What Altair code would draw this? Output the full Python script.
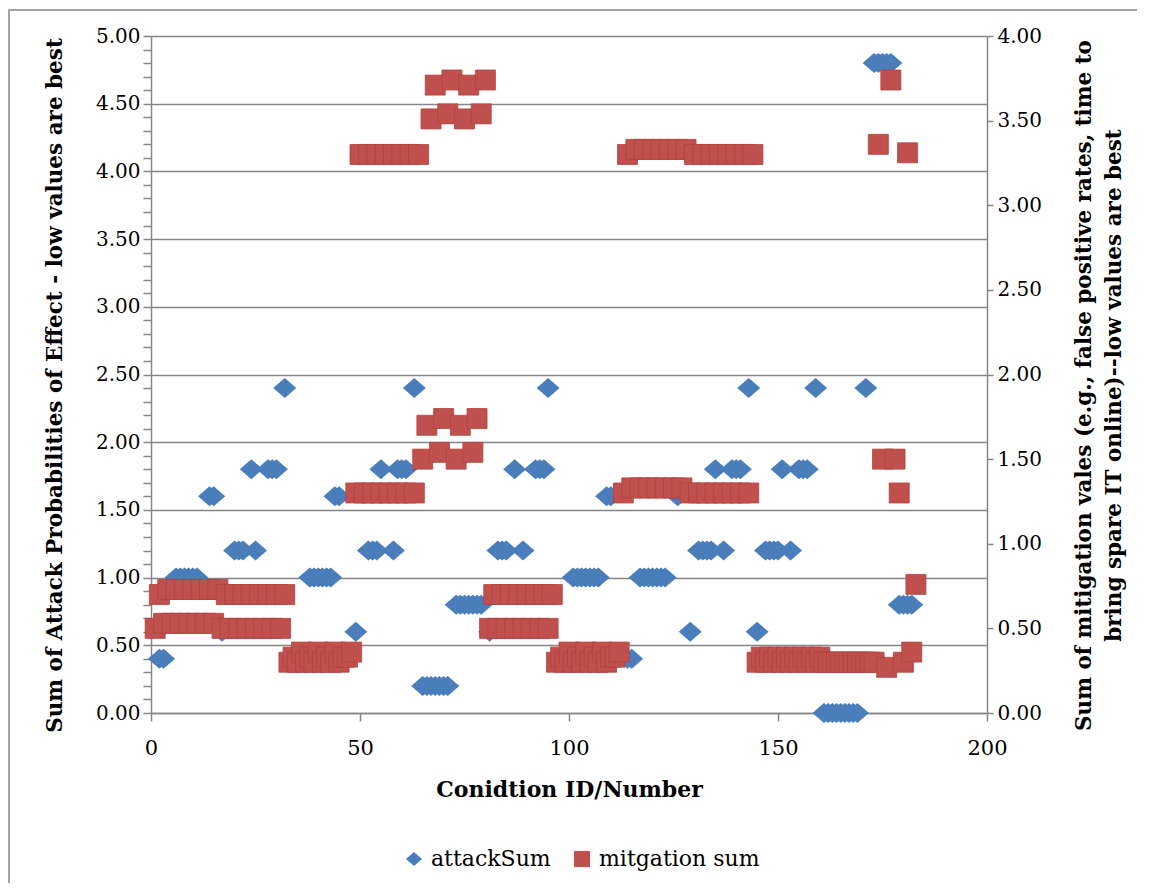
import altair as alt
import pandas as pd

# ---------------- data ----------------
series_names = ["attackSum", "mitgation sum"]
series_colors = ["#4A7EBB", "#C0504D"]

attack_x = [2, 3, 6, 7, 8, 9, 10, 11, 14, 15, 17, 20, 21, 22, 24, 25, 28, 29, 30, 32,
            38, 39, 40, 41, 42, 43, 44, 45, 49, 52, 53, 54, 55, 58, 59, 60, 61, 63,
            65, 66, 67, 68, 69, 70, 71, 73, 74, 75, 76, 77, 78, 79, 81, 83, 84, 85, 87, 89,
            92, 93, 94, 95, 101, 102, 103, 104, 105, 106, 107, 109, 110, 114, 115,
            117, 118, 119, 120, 121, 122, 123, 126, 129, 131, 132, 133, 134, 135, 137,
            139, 140, 141, 143, 145, 147, 148, 149, 150, 151, 153, 155, 156, 157, 159,
            161, 162, 163, 164, 165, 166, 167, 168, 169, 171, 173, 174, 175, 176, 177,
            179, 180, 181, 182]
attack_y = [0.4, 0.4, 1.0, 1.0, 1.0, 1.0, 1.0, 1.0, 1.6, 1.6, 0.6, 1.2, 1.2, 1.2, 1.8, 1.2, 1.8, 1.8, 1.8, 2.4,
            1.0, 1.0, 1.0, 1.0, 1.0, 1.0, 1.6, 1.6, 0.6, 1.2, 1.2, 1.2, 1.8, 1.2, 1.8, 1.8, 1.8, 2.4,
            0.2, 0.2, 0.2, 0.2, 0.2, 0.2, 0.2, 0.8, 0.8, 0.8, 0.8, 0.8, 0.8, 0.8, 0.6, 1.2, 1.2, 1.2, 1.8, 1.2,
            1.8, 1.8, 1.8, 2.4, 1.0, 1.0, 1.0, 1.0, 1.0, 1.0, 1.0, 1.6, 1.6, 0.4, 0.4,
            1.0, 1.0, 1.0, 1.0, 1.0, 1.0, 1.0, 1.6, 0.6, 1.2, 1.2, 1.2, 1.2, 1.8, 1.2,
            1.8, 1.8, 1.8, 2.4, 0.6, 1.2, 1.2, 1.2, 1.2, 1.8, 1.2, 1.8, 1.8, 1.8, 2.4,
            0.0, 0.0, 0.0, 0.0, 0.0, 0.0, 0.0, 0.0, 0.0, 2.4, 4.8, 4.8, 4.8, 4.8, 4.8,
            0.8, 0.8, 0.8, 0.8]

mit_x = list(range(1, 184))  # condition IDs 1..183
mit_y = [
    # 1-32
    0.50, 0.70, 0.53, 0.73, 0.53, 0.73, 0.53, 0.73, 0.53, 0.73, 0.53, 0.73, 0.53, 0.73, 0.53, 0.73,
    0.50, 0.70, 0.50, 0.70, 0.50, 0.70, 0.50, 0.70, 0.50, 0.70, 0.50, 0.70, 0.50, 0.70, 0.50, 0.70,
    # 33-48
    0.30, 0.33, 0.30, 0.36, 0.30, 0.33, 0.30, 0.36, 0.30, 0.33, 0.30, 0.36, 0.30, 0.33, 0.33, 0.36,
    # 49-64
    1.30, 3.30, 1.30, 3.30, 1.30, 3.30, 1.30, 3.30, 1.30, 3.30, 1.30, 3.30, 1.30, 3.30, 1.30, 3.30,
    # 65-80
    1.50, 1.70, 3.51, 3.71, 1.54, 1.74, 3.54, 3.74, 1.50, 1.70, 3.51, 3.71, 1.54, 1.74, 3.54, 3.74,
    # 81-96
    0.50, 0.70, 0.50, 0.70, 0.50, 0.70, 0.50, 0.70, 0.50, 0.70, 0.50, 0.70, 0.50, 0.70, 0.50, 0.70,
    # 97-112
    0.30, 0.33, 0.30, 0.36, 0.30, 0.33, 0.30, 0.36, 0.30, 0.33, 0.30, 0.36, 0.30, 0.33, 0.33, 0.36,
    # 113-144
    1.30, 3.30, 1.33, 3.33, 1.33, 3.33, 1.33, 3.33, 1.33, 3.33, 1.33, 3.33, 1.33, 3.33, 1.33, 3.33,
    1.30, 3.30, 1.30, 3.30, 1.30, 3.30, 1.30, 3.30, 1.30, 3.30, 1.30, 3.30, 1.30, 3.30, 1.30, 3.30,
    # 145-173
    0.30, 0.33, 0.30, 0.33, 0.30, 0.33, 0.30, 0.33, 0.30, 0.33, 0.30, 0.33, 0.30, 0.33, 0.30, 0.33,
    0.30, 0.30, 0.30, 0.30, 0.30, 0.30, 0.30, 0.30, 0.30, 0.30, 0.30, 0.30, 0.30,
    # 174-183
    3.36, 1.50, 0.27, 3.74, 1.50, 1.30, 0.30, 3.31, 0.36, 0.76,
]

x_ticks = [0, 50, 100, 150, 200]
left_ticks = [0.0, 0.1, 0.2, 0.3, 0.4, 0.5, 0.6, 0.7, 0.8, 0.9, 1.0, 1.1, 1.2, 1.3, 1.4, 1.5, 1.6,
              1.7, 1.8, 1.9, 2.0, 2.1, 2.2, 2.3, 2.4, 2.5, 2.6, 2.7, 2.8, 2.9, 3.0, 3.1, 3.2, 3.3,
              3.4, 3.5, 3.6, 3.7, 3.8, 3.9, 4.0, 4.1, 4.2, 4.3, 4.4, 4.5, 4.6, 4.7, 4.8, 4.9, 5.0]
right_ticks = [0.0, 0.5, 1.0, 1.5, 2.0, 2.5, 3.0, 3.5, 4.0]

x_title = "Conidtion ID/Number"
left_title = "Sum of Attack Probabilities of Effect - low values are best"
right_title = ["Sum of mitigation vales (e.g., false positive rates, time to",
               "bring spare IT online)--low values are best"]

assert len(attack_x) == len(attack_y)
assert len(mit_x) == len(mit_y)

# ---------------- chart ----------------
FONT = "DejaVu Serif"
GRAY = "#868686"
DIAMOND = "M -1 0 L 0 -0.87 L 1 0 L 0 0.87 Z"

df_a = pd.DataFrame({"id": attack_x, "value": attack_y, "series": series_names[0]})
df_m = pd.DataFrame({"id": mit_x, "value": mit_y, "series": series_names[1]})

legend = alt.Legend(title=None, orient="none", direction="horizontal", legendX=252, legendY=812,
                    labelFont=FONT, labelFontSize=22, labelColor="black", labelLimit=0,
                    symbolSize=260, symbolStrokeWidth=0, labelOffset=6, columnPadding=20,
                    padding=0)
color = alt.Color("series:N", scale=alt.Scale(domain=series_names, range=series_colors), legend=legend)
shape = alt.Shape("series:N", scale=alt.Scale(domain=series_names, range=[DIAMOND, "square"]), legend=legend)

x_enc = alt.X("id:Q", scale=alt.Scale(domain=[0, 200], nice=False, zero=False),
              axis=alt.Axis(values=x_ticks, title=x_title, grid=False, tickSize=8, labelPadding=16,
                            labelFlush=False, labelFontSize=21,
                            format="d", titleY=83, titleBaseline="alphabetic", titleFontSize=22))

major = "round(datum.value*10) % 5 === 0"
y_left = alt.Y("value:Q", scale=alt.Scale(domain=[0, 5], nice=False),
               axis=alt.Axis(values=left_ticks, orient="left", tickSize=8, labelPadding=3,
                             labelOverlap=False, labelFlush=False,
                             labelExpr=major + " ? format(datum.value, '.2f') : ''",
                             grid=True,
                             gridOpacity={"condition": {"test": major, "value": 1}, "value": 0},
                             title=left_title, titleAngle=270, titleBaseline="top",
                             titleAlign="center", titleX=-107, titleY=349, titleFontSize=21.5))
y_right = alt.Y("value:Q", scale=alt.Scale(domain=[0, 4], nice=False),
                axis=alt.Axis(values=right_ticks, orient="right", tickSize=6, labelPadding=4,
                              format=".2f", grid=False, labelOverlap=False, labelFlush=False,
                              title=right_title, titleAngle=270, titleBaseline="top",
                              titleAlign="center", titleX=86, titleY=349, titleLineHeight=30,
                              titleFontSize=21.5))

# thin chart-area border (top and left edges show in the reference; the rest runs off the page)
frame = alt.Chart(alt.Data(values=[{"k": 1}])).mark_rect(
    fill="transparent", stroke=GRAY, strokeWidth=1.5
).encode(x=alt.value(-142), x2=alt.value(1300), y=alt.value(-26), y2=alt.value(1300))

blue = alt.Chart(df_a).mark_point(filled=True, opacity=1, size=529, strokeWidth=0).encode(
    x=x_enc, y=y_left, color=color, shape=shape)
red = alt.Chart(df_m).mark_point(filled=True, opacity=1, size=400, stroke="#B3423F",
                                  strokeWidth=0.8).encode(
    x=x_enc, y=y_right, color=color, shape=shape)

chart = alt.layer(frame, blue, red).resolve_scale(y="independent").properties(
    width=836, height=677,
    padding={"left": 143, "top": 28, "right": 150, "bottom": 170},
    autosize=alt.AutoSizeParams(type="none"),
).configure_view(stroke=None).configure_axis(
    domainColor=GRAY, tickColor=GRAY, gridColor=GRAY, domainWidth=1.5, tickWidth=1.5, gridWidth=1.5,
    labelFont=FONT, labelFontSize=20, labelColor="black",
    titleFont=FONT, titleFontSize=20, titleFontWeight="bold", titleColor="black",
)

chart.save("out.html", embed_options={"renderer": "svg", "actions": False})
